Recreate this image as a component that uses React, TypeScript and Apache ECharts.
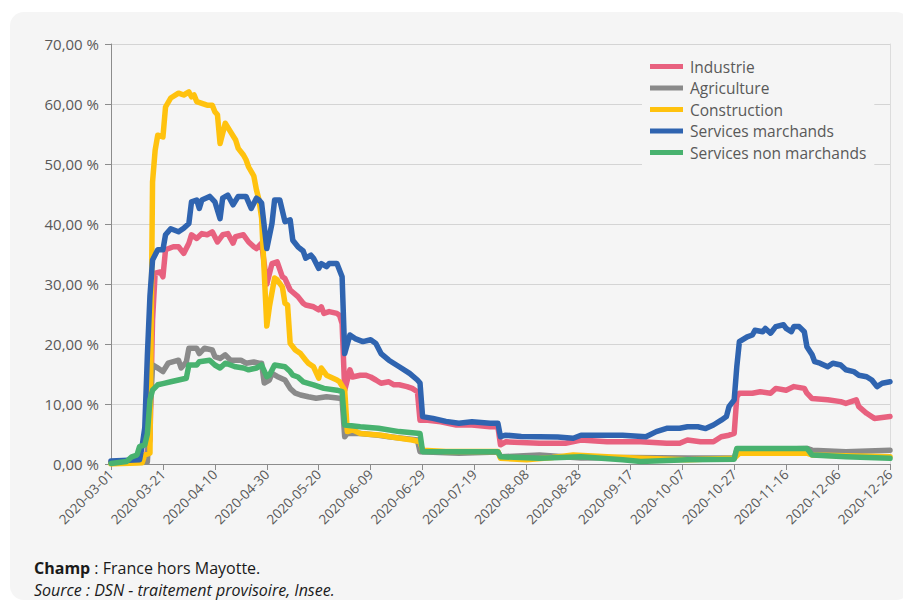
import React, { useEffect, useRef } from "react";
import * as echarts from "echarts";

// Day offsets from 2020-03-01, value in %
const seriesNames = [
  "Industrie",
  "Agriculture",
  "Construction",
  "Services marchands",
  "Services non marchands",
];
const seriesColors = ["#e8617f", "#8a8a8a", "#ffc20e", "#2f64b0", "#48b26f"];

const industrie: [number, number][] = [
  [0, 0.3], [13, 0.4], [15, 4], [16, 24], [17, 31.8], [19, 32], [20, 31.2], [21, 35.7], [24, 36.2], [26, 36.2],
  [28, 35.1], [30, 36.8], [31, 38.2], [33, 37.6], [35, 38.4], [37, 38.2], [39, 38.7], [41, 37], [43, 38.2], [45, 38.4],
  [47, 36.8], [48, 37.9], [51, 38.2], [53, 37], [55, 36.2], [56, 35.9], [58, 36.8], [60, 30], [62, 33.4], [64, 33.7],
  [66, 31.2], [67, 30.9], [69, 29], [72, 27.9], [74, 26.8], [75, 26.5], [78, 26.2], [80, 25.7], [81, 26.2], [82, 25.1],
  [84, 25.4], [87, 25.1], [88, 24.8], [89, 23.4], [90, 12.3], [92, 15.7], [93, 14.5], [96, 14.8], [98, 14.8], [100, 14.5],
  [102, 14], [104, 13.45], [107, 13.7], [109, 13.2], [111, 13.2], [114, 12.9], [116, 12.6], [118, 12.05], [119, 7.3], [122, 7.3],
  [127, 7.05], [133, 6.5], [139, 6.5], [146, 6.2], [149, 6.2], [150, 3.2], [152, 3.7], [165, 3.45], [175, 3.45], [181, 4],
  [191, 3.7], [204, 3.7], [214, 3.45], [219, 3.45], [222, 4], [227, 3.7], [232, 3.7], [235, 4.55], [238, 4.8], [240, 5.1],
  [241, 11.2], [242, 11.8], [247, 11.8], [250, 12.05], [254, 11.8], [256, 12.6], [260, 12.3], [263, 12.9], [267, 12.6], [268, 11.8],
  [270, 10.9], [276, 10.7], [281, 10.4], [283, 10.1], [287, 10.7], [288, 9.55], [291, 8.45], [294, 7.6], [300, 7.9],
];

const agriculture: [number, number][] = [
  [0, 0.2], [14, 0.3], [15, 8], [16, 16.5], [18, 16], [20, 15.4], [22, 16.8], [26, 17.3], [27, 16], [29, 17],
  [30, 19.3], [33, 19.3], [34, 18.4], [36, 19.3], [39, 19], [40, 17.9], [42, 17.6], [44, 18.2], [46, 17.3], [50, 17.3],
  [52, 16.8], [55, 17], [57, 16.8], [58, 16.8], [59, 13.5], [61, 14], [62, 15.1], [64, 14.6], [67, 14], [69, 12.6],
  [71, 11.8], [73, 11.5], [76, 11.2], [79, 10.95], [83, 11.2], [88, 10.95], [89, 10.7], [90, 4.55], [91, 5.1], [96, 5.1],
  [103, 4.8], [107, 4.55], [118, 4], [119, 2.05], [134, 1.8], [149, 2], [150, 1.2], [165, 1.5], [181, 1], [200, 1.1],
  [222, 1], [240, 1], [241, 2.3], [268, 2.6], [270, 2.3], [283, 2.05], [300, 2.3],
];

const construction: [number, number][] = [
  [0, 0], [12, 0.2], [13, 1.5], [15, 1.8], [16, 47], [17, 52.3], [18, 54.8], [20, 54.5], [21, 59.5], [23, 61],
  [26, 61.8], [28, 61.5], [30, 62], [31, 61.2], [32, 61.5], [33, 60.4], [37, 59.8], [39, 59.8], [40, 58.7], [41, 58.2],
  [42, 53.4], [44, 56.8], [46, 55.4], [48, 54], [49, 52.6], [51, 51.5], [52, 50.7], [53, 49.5], [55, 48], [56, 45.7],
  [57, 44], [58, 41], [60, 23], [61, 26.2], [63, 31], [64, 30.7], [66, 29.5], [67, 26.8], [68, 26.5], [69, 20.1],
  [71, 19], [73, 18.4], [75, 17.3], [76, 16.8], [78, 16.2], [80, 14.3], [81, 16], [83, 14.8], [87, 14], [88, 13.7],
  [90, 12.3], [91, 5.4], [93, 5.7], [96, 5.1], [104, 4.8], [108, 4.5], [116, 4], [119, 3.7], [120, 2.3], [129, 2.1],
  [140, 2.1], [149, 2.1], [150, 0.95], [160, 0.7], [170, 1.1], [178, 1.5], [191, 1.2], [204, 0.95], [222, 0.7], [240, 0.95],
  [242, 1.8], [268, 1.8], [270, 1.5], [300, 1.2],
];

const servicesMarchands: [number, number][] = [
  [0, 0.5], [11, 0.7], [12, 3], [13, 6], [14, 18], [15, 28], [16, 34], [18, 35.7], [20, 35.7],
  [21, 38.2], [23, 39.2], [26, 38.7], [28, 39.3], [30, 40.1], [31, 43.7], [33, 44], [34, 42.6], [35, 44], [38, 44.6],
  [40, 43.7], [42, 40.9], [43, 44.3], [45, 44.8], [47, 43.2], [49, 44.6], [52, 44.6], [54, 42.6], [56, 44.3], [57, 44],
  [58, 43.5], [60, 35.9], [62, 40.1], [63, 44], [65, 44], [67, 40.4], [69, 40.7], [70, 37.3], [72, 36.2], [74, 35.5],
  [75, 34.3], [77, 34.8], [78, 34.3], [80, 32.6], [81, 33.4], [83, 32.9], [84, 33.4], [87, 33.4], [89, 31.2], [90, 18.4],
  [92, 21.5], [94, 20.9], [97, 20.4], [100, 20.7], [102, 20.1], [104, 18.4], [107, 17.3], [111, 16.2], [115, 15.1], [118, 14],
  [119, 13.5], [120, 7.9], [124, 7.6], [129, 7.1], [134, 6.8], [139, 7.05], [146, 6.8], [149, 6.8], [150, 4.55], [152, 4.8],
  [158, 4.6], [165, 4.55], [172, 4.5], [178, 4.3], [181, 4.8], [191, 4.8], [197, 4.8], [206, 4.55], [210, 5.4], [214, 5.95],
  [219, 5.95], [222, 6.2], [226, 6.2], [229, 5.9], [232, 6.5], [235, 7.3], [237, 7.9], [238, 9.55], [240, 10.7], [241, 16.2],
  [242, 20.4], [245, 21.2], [247, 21.5], [248, 22.3], [251, 22.05], [252, 22.6], [254, 21.8], [256, 22.9], [259, 23.2], [260, 22.6],
  [262, 22.05], [263, 22.9], [265, 22.9], [267, 22.05], [268, 19.55], [270, 18.2], [271, 17.05], [273, 16.8], [276, 16.2], [278, 16.8],
  [281, 16.5], [283, 15.7], [286, 15.4], [288, 14.8], [291, 14.55], [293, 14], [295, 12.9], [297, 13.45], [300, 13.7],
];

const servicesNonMarchands: [number, number][] = [
  [0, 0.1], [6, 0.4], [8, 1.2], [10, 1.5], [11, 2.9], [13, 3.2], [14, 5], [15, 10.7], [16, 12.3], [18, 13.2],
  [20, 13.4], [23, 13.7], [26, 14], [29, 14.3], [30, 16.5], [33, 16.5], [34, 17.05], [38, 17.3], [40, 16.5], [42, 16],
  [44, 16.8], [46, 16.5], [48, 16.2], [51, 16], [53, 15.7], [56, 16], [58, 16.5], [60, 14.55], [61, 14.8], [63, 16.5],
  [67, 16.2], [69, 15.4], [70, 14.8], [72, 14.5], [74, 13.7], [78, 13.2], [82, 12.6], [87, 12.3], [89, 12.05], [90, 6.5],
  [96, 6.2], [103, 5.95], [111, 5.4], [119, 5.1], [120, 2.05], [134, 2.05], [149, 2.05], [150, 1.2], [165, 0.95], [181, 1.2],
  [197, 0.7], [204, 0.4], [222, 0.7], [240, 0.8], [241, 2.6], [268, 2.6], [270, 1.5], [283, 1.2], [300, 0.95],
];

const allSeries = [industrie, agriculture, construction, servicesMarchands, servicesNonMarchands];

const yMax = 70;
const yInterval = 10;
const xMax = 300;
const xInterval = 20;

function dayToDate(d: number): string {
  const base = Date.UTC(2020, 2, 1);
  return new Date(base + Math.round(d) * 86400000).toISOString().slice(0, 10);
}

export default function App() {
  const ref = useRef<HTMLDivElement>(null);
  useEffect(() => {
    if (!ref.current) return;
    const chart = echarts.init(ref.current, undefined, { renderer: "svg" });
    const font = "'Open Sans', sans-serif";
    chart.setOption({
      animation: false,
      backgroundColor: "transparent",
      textStyle: { fontFamily: font },
      grid: { left: 111, right: 13, top: 44, bottom: 144, containLabel: false },
      legend: {
        orient: "vertical",
        left: 642,
        top: 51,
        padding: [7, 8, 9, 8],
        backgroundColor: "#f5f5f5",
        itemWidth: 33,
        itemHeight: 5,
        itemGap: 4.5,
        icon: "rect",
        selectedMode: false,
        textStyle: {
          color: "#595959",
          fontSize: 15.5,
          fontFamily: font,
          lineHeight: 17,
          padding: [0, 0, 0, 2],
        },
        data: seriesNames,
      },
      xAxis: {
        type: "value",
        min: 0,
        max: xMax,
        interval: xInterval,
        axisLine: { show: true, lineStyle: { color: "#8c8c8c", width: 1 } },
        axisTick: { show: true, length: 6, lineStyle: { color: "#8c8c8c" } },
        splitLine: { show: false },
        axisLabel: {
          rotate: 45,
          margin: 8,
          color: "#595959",
          fontSize: 13.5,
          fontFamily: font,
          formatter: (v: number) => dayToDate(v),
        },
      },
      yAxis: [
        {
          type: "value",
          min: 0,
          max: yMax,
          interval: yInterval,
          axisLine: { show: true, lineStyle: { color: "#8c8c8c", width: 1 } },
          axisTick: { show: true, length: 6, lineStyle: { color: "#8c8c8c" } },
          splitLine: { show: true, lineStyle: { color: "#d4d4d4", width: 1 } },
          axisLabel: {
            margin: 12,
            color: "#595959",
            fontSize: 15,
            fontFamily: font,
            formatter: (v: number) => v.toFixed(2).replace(".", ",") + " %",
          },
        },
        {
          type: "value",
          position: "right",
          min: 0,
          max: yMax,
          interval: yInterval,
          axisLine: { show: true, lineStyle: { color: "#dcdcdc", width: 1 } },
          axisTick: { show: false },
          axisLabel: { show: false },
          splitLine: { show: false },
        },
      ],
      series: seriesNames.map((name, i) => ({
        name,
        type: "line",
        data: allSeries[i],
        showSymbol: false,
        symbol: "none",
        color: seriesColors[i],
        lineStyle: { width: 5.5, color: seriesColors[i], cap: "round", join: "round" },
      })),
      graphic: [
        {
          type: "text",
          left: 34,
          top: 558,
          style: {
            text: "{b|Champ} : France hors Mayotte.",
            fill: "#1a1a1a",
            fontSize: 16,
            lineHeight: 19,
            fontFamily: font,
            rich: {
              b: { fontWeight: "bold", fontSize: 16, lineHeight: 19, fontFamily: font, fill: "#1a1a1a" },
            },
          },
        },
        {
          type: "text",
          left: 34,
          top: 580,
          style: {
            text: "Source : DSN - traitement provisoire, Insee.",
            fill: "#1a1a1a",
            fontSize: 16,
            lineHeight: 19,
            fontStyle: "italic",
            fontFamily: font,
          },
        },
      ],
    });
    return () => chart.dispose();
  }, []);

  return (
    <div style={{ position: "fixed", left: 0, top: 0, width: 903, height: 608, background: "#ffffff" }}>
      <div
        style={{
          position: "absolute",
          left: 10,
          top: 12,
          width: 900,
          height: 588,
          background: "#f5f5f5",
          borderRadius: 14,
        }}
      />
      <div ref={ref} style={{ position: "absolute", left: 0, top: 0, width: 903, height: 608 }} />
    </div>
  );
}
